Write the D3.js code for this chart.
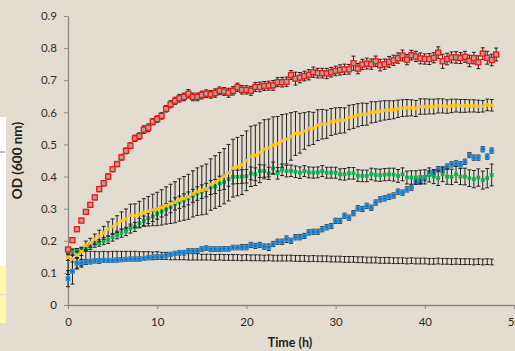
<!DOCTYPE html>
<html>
<head>
<meta charset="utf-8">
<script src="https://cdn.jsdelivr.net/npm/d3@7"></script>
<style>
  html, body { margin: 0; padding: 0; background: #e3ddd1; }
  svg { display: block; }
</style>
</head>
<body>
<div id="chart"></div>
<script>
// time points (h), half-hour readings
const times = [0,0.5,1,1.5,2,2.5,3,3.5,4,4.5,5,5.5,6,6.5,7,7.5,8,8.5,9,9.5,
  10,10.5,11,11.5,12,12.5,13,13.5,14,14.5,15,15.5,16,16.5,17,17.5,18,18.5,19,19.5,
  20,20.5,21,21.5,22,22.5,23,23.5,24,24.5,25,25.5,26,26.5,27,27.5,28,28.5,29,29.5,
  30,30.5,31,31.5,32,32.5,33,33.5,34,34.5,35,35.5,36,36.5,37,37.5,38,38.5,39,39.5,
  40,40.5,41,41.5,42,42.5,43,43.5,44,44.5,45,45.5,46,46.5,47,47.5,48];

const xTicks = [0, 10, 20, 30, 40, 50];
const yTicks = [0, 0.1, 0.2, 0.3, 0.4, 0.5, 0.6, 0.7, 0.8, 0.9];

const redOD = [0.173,0.202,0.236,0.263,0.290,0.312,0.335,0.361,0.379,0.400,
  0.423,0.439,0.460,0.480,0.496,0.519,0.526,0.546,0.552,0.571,
  0.579,0.589,0.611,0.625,0.636,0.644,0.648,0.658,0.648,0.648,
  0.654,0.658,0.656,0.660,0.667,0.665,0.661,0.667,0.678,0.670,
  0.670,0.667,0.679,0.679,0.682,0.683,0.684,0.694,0.694,0.695,
  0.716,0.705,0.708,0.713,0.717,0.725,0.722,0.722,0.721,0.725,
  0.729,0.732,0.734,0.734,0.753,0.736,0.749,0.752,0.750,0.759,
  0.747,0.750,0.757,0.762,0.769,0.777,0.764,0.778,0.774,0.768,
  0.766,0.766,0.770,0.786,0.759,0.766,0.771,0.771,0.769,0.773,
  0.760,0.769,0.756,0.783,0.770,0.763,0.780];
const redErr = [0.006,0.006,0.006,0.007,0.007,0.007,0.007,0.008,0.008,0.008,
  0.008,0.008,0.009,0.009,0.009,0.010,0.010,0.012,0.012,0.010,
  0.010,0.010,0.010,0.011,0.011,0.012,0.012,0.013,0.012,0.012,
  0.012,0.012,0.012,0.013,0.012,0.012,0.014,0.013,0.013,0.013,
  0.013,0.014,0.014,0.015,0.014,0.014,0.015,0.014,0.015,0.015,
  0.014,0.020,0.016,0.015,0.016,0.016,0.015,0.015,0.016,0.015,
  0.015,0.016,0.016,0.015,0.022,0.016,0.016,0.017,0.016,0.016,
  0.018,0.016,0.017,0.016,0.016,0.017,0.016,0.015,0.016,0.017,
  0.016,0.017,0.016,0.018,0.022,0.018,0.017,0.018,0.017,0.017,
  0.018,0.018,0.020,0.018,0.020,0.018,0.020];

const yellowOD = [0.149,0.144,0.156,0.166,0.186,0.194,0.205,0.215,0.225,0.237,
  0.244,0.252,0.262,0.268,0.280,0.278,0.283,0.288,0.292,0.296,
  0.299,0.304,0.310,0.315,0.320,0.327,0.332,0.337,0.346,0.353,
  0.357,0.361,0.375,0.383,0.391,0.401,0.412,0.426,0.431,0.436,
  0.449,0.463,0.466,0.474,0.485,0.489,0.498,0.502,0.511,0.517,
  0.525,0.534,0.535,0.542,0.549,0.550,0.560,0.563,0.563,0.570,
  0.573,0.575,0.575,0.584,0.587,0.591,0.594,0.594,0.600,0.601,
  0.604,0.606,0.607,0.608,0.611,0.613,0.614,0.614,0.612,0.618,
  0.618,0.618,0.618,0.620,0.620,0.618,0.620,0.621,0.620,0.620,
  0.620,0.620,0.619,0.619,0.623,0.622];
const yellowErr = [0.010,0.010,0.011,0.012,0.013,0.014,0.016,0.018,0.020,0.022,
  0.024,0.026,0.028,0.031,0.034,0.037,0.040,0.043,0.046,0.049,
  0.052,0.055,0.058,0.061,0.064,0.066,0.068,0.070,0.072,0.074,
  0.076,0.078,0.080,0.082,0.084,0.086,0.088,0.090,0.091,0.092,
  0.093,0.094,0.094,0.093,0.092,0.090,0.088,0.085,0.082,0.078,
  0.074,0.068,0.062,0.057,0.053,0.050,0.048,0.046,0.044,0.042,
  0.041,0.040,0.039,0.038,0.037,0.036,0.035,0.034,0.033,0.032,
  0.031,0.030,0.029,0.028,0.027,0.026,0.026,0.025,0.025,0.024,
  0.024,0.023,0.023,0.022,0.022,0.021,0.021,0.020,0.020,0.020,
  0.019,0.019,0.019,0.018,0.018,0.018];

const greenOD = [0.164,0.166,0.168,0.172,0.178,0.182,0.190,0.193,0.199,0.203,
  0.211,0.218,0.224,0.229,0.238,0.243,0.255,0.262,0.270,0.276,
  0.284,0.291,0.298,0.305,0.315,0.320,0.326,0.332,0.340,0.347,
  0.353,0.358,0.366,0.369,0.379,0.382,0.392,0.399,0.399,0.400,
  0.401,0.410,0.407,0.417,0.417,0.410,0.426,0.410,0.421,0.417,
  0.418,0.415,0.412,0.417,0.413,0.412,0.413,0.417,0.412,0.412,
  0.412,0.407,0.407,0.410,0.410,0.403,0.402,0.402,0.408,0.405,
  0.404,0.406,0.407,0.406,0.402,0.407,0.397,0.397,0.397,0.399,
  0.399,0.405,0.400,0.395,0.407,0.400,0.399,0.407,0.400,0.400,
  0.395,0.392,0.397,0.389,0.395,0.405];
const greenErr = [0.008,0.008,0.008,0.008,0.009,0.009,0.010,0.010,0.011,0.011,
  0.012,0.012,0.013,0.013,0.014,0.014,0.015,0.015,0.016,0.016,
  0.017,0.017,0.018,0.018,0.019,0.019,0.020,0.020,0.020,0.021,
  0.021,0.021,0.022,0.022,0.022,0.022,0.022,0.022,0.021,0.021,
  0.021,0.020,0.020,0.020,0.019,0.019,0.019,0.018,0.018,0.018,
  0.018,0.018,0.018,0.017,0.017,0.017,0.017,0.017,0.017,0.017,
  0.017,0.017,0.018,0.018,0.018,0.018,0.018,0.018,0.018,0.019,
  0.019,0.019,0.019,0.020,0.020,0.020,0.020,0.021,0.021,0.021,
  0.022,0.022,0.022,0.023,0.023,0.024,0.024,0.025,0.025,0.026,
  0.026,0.027,0.027,0.028,0.030,0.034];

const blueOD = [0.082,0.105,0.130,0.132,0.134,0.135,0.138,0.138,0.139,0.139,
  0.139,0.140,0.141,0.142,0.143,0.143,0.143,0.145,0.147,0.149,
  0.150,0.150,0.155,0.158,0.161,0.163,0.163,0.168,0.168,0.169,
  0.174,0.177,0.174,0.174,0.174,0.175,0.175,0.179,0.179,0.180,
  0.180,0.187,0.184,0.187,0.182,0.180,0.190,0.197,0.197,0.205,
  0.200,0.211,0.211,0.215,0.226,0.228,0.228,0.236,0.242,0.246,
  0.262,0.262,0.278,0.272,0.286,0.301,0.299,0.309,0.303,0.319,
  0.329,0.332,0.337,0.341,0.353,0.350,0.360,0.365,0.384,0.384,
  0.395,0.410,0.410,0.423,0.421,0.431,0.438,0.441,0.438,0.446,
  0.467,0.459,0.459,0.485,0.462,0.481];
const blueErr = [0.025,0.040,0.018,0.010,0.008,0.007,0.006,0.006,0.006,0.006,
  0.006,0.006,0.006,0.006,0.006,0.006,0.006,0.006,0.006,0.006,
  0.006,0.006,0.006,0.006,0.006,0.007,0.007,0.007,0.007,0.007,
  0.007,0.007,0.007,0.007,0.007,0.007,0.007,0.007,0.007,0.008,
  0.008,0.008,0.008,0.008,0.008,0.010,0.008,0.008,0.008,0.010,
  0.008,0.008,0.008,0.008,0.008,0.008,0.008,0.008,0.008,0.008,
  0.008,0.008,0.008,0.008,0.008,0.008,0.008,0.008,0.008,0.008,
  0.008,0.008,0.008,0.008,0.008,0.008,0.008,0.008,0.008,0.008,
  0.008,0.008,0.008,0.008,0.008,0.008,0.008,0.008,0.008,0.008,
  0.008,0.008,0.008,0.008,0.008,0.008];

const blackOD = [0.135,0.140,0.143,0.144,0.147,0.148,0.149,0.148,0.150,0.150,
  0.151,0.152,0.152,0.153,0.153,0.154,0.153,0.154,0.154,0.153,
  0.154,0.153,0.153,0.152,0.152,0.151,0.151,0.150,0.150,0.150,
  0.149,0.149,0.149,0.148,0.149,0.148,0.148,0.148,0.148,0.147,
  0.148,0.147,0.147,0.147,0.146,0.147,0.146,0.146,0.146,0.146,
  0.146,0.145,0.145,0.145,0.144,0.145,0.144,0.144,0.144,0.143,
  0.143,0.143,0.142,0.142,0.142,0.141,0.141,0.140,0.140,0.140,
  0.139,0.139,0.139,0.138,0.138,0.138,0.137,0.138,0.137,0.137,
  0.137,0.136,0.136,0.137,0.136,0.136,0.135,0.136,0.135,0.135,
  0.135,0.134,0.135,0.134,0.135,0.134];
const blackErr = [0.040,0.034,0.028,0.026,0.020,0.019,0.018,0.018,0.017,0.016,
  0.016,0.015,0.015,0.014,0.014,0.013,0.013,0.012,0.012,0.012,
  0.012,0.011,0.011,0.011,0.011,0.010,0.010,0.010,0.010,0.010,
  0.009,0.009,0.009,0.009,0.009,0.009,0.009,0.009,0.009,0.009,
  0.009,0.009,0.009,0.009,0.009,0.009,0.009,0.009,0.009,0.009,
  0.009,0.009,0.009,0.009,0.009,0.009,0.009,0.009,0.009,0.009,
  0.009,0.009,0.009,0.009,0.009,0.009,0.009,0.009,0.009,0.009,
  0.009,0.009,0.009,0.009,0.009,0.009,0.009,0.009,0.009,0.009,
  0.009,0.009,0.009,0.009,0.009,0.009,0.009,0.009,0.009,0.009,
  0.009,0.009,0.009,0.009,0.009,0.009];

let width = 515;
let height = 351;
let margin = {top: 16, right: 1, bottom: 46, left: 68};

const svg = d3.select("#chart")
  .append("svg")
    .attr("width", width)
    .attr("height", height);

svg.append("rect")
  .attr("width", width)
  .attr("height", height)
  .attr("fill", "#e3ddd1");

// leftover bits of a cropped legend box on the left edge
svg.append("rect").attr("x", 0).attr("y", 117).attr("width", 6).attr("height", 149).attr("fill", "#ffffff");
svg.append("rect").attr("x", 0).attr("y", 266).attr("width", 6).attr("height", 28).attr("fill", "#fcf9a8");
svg.append("rect").attr("x", 0).attr("y", 295).attr("width", 6).attr("height", 28).attr("fill", "#fcf9a8");
svg.append("line").attr("x1", 0).attr("x2", 5).attr("y1", 152).attr("y2", 152)
  .attr("stroke", "#8a8a8a").attr("stroke-width", 1.2);

let x = d3.scaleLinear()
  .domain([0, 50])
  .range([margin.left, width - margin.right]);
let y = d3.scaleLinear()
  .domain([0, 0.9])
  .range([height - margin.bottom, margin.top]);

const fontFam = "Lato, 'Open Sans', sans-serif";

const yAxis = svg.append("g")
  .attr("transform", "translate(" + margin.left + ",0)")
  .call(d3.axisLeft(y).tickValues(yTicks).tickSize(4).tickSizeOuter(0).tickPadding(7)
    .tickFormat(d => d === 0 ? "0" : d3.format(".1f")(d)));

const xAxis = svg.append("g")
  .attr("transform", "translate(0," + (height - margin.bottom) + ")")
  .call(d3.axisBottom(x).tickValues(xTicks).tickSize(4).tickSizeOuter(0).tickPadding(9));

[xAxis, yAxis].forEach(function (g) {
  g.select(".domain").attr("stroke", "#8a8a8a").attr("stroke-width", 1.3);
  g.selectAll(".tick line").attr("stroke", "#8a8a8a");
  g.selectAll(".tick text")
    .attr("fill", "#2b2b2b")
    .style("font-family", fontFam)
    .style("font-size", "11.5px");
});

svg.append("text")
  .attr("x", (x(0) + x(50)) / 2 - 1)
  .attr("y", 347)
  .attr("text-anchor", "middle")
  .style("font-family", fontFam)
  .style("font-weight", "bold")
  .style("font-size", "12.5px")
  .attr("fill", "#1e1e1e")
  .text("Time (h)");

svg.append("text")
  .attr("transform", "translate(22," + ((y(0) + y(0.9)) / 2) + ") rotate(-90)")
  .attr("text-anchor", "middle")
  .style("font-family", fontFam)
  .style("font-weight", "bold")
  .style("font-size", "13.5px")
  .attr("fill", "#1e1e1e")
  .text("OD (600 nm)");

const series = [
  {vals: blackOD, err: blackErr, fill: "none", stroke: "none", size: 0},
  {vals: blueOD, err: blueErr, fill: "#0a72c2", stroke: "#3a8fd0", size: 3.6},
  {vals: greenOD, err: greenErr, fill: "#0db150", stroke: "#0db150", size: 3.8},
  {vals: yellowOD, err: yellowErr, fill: "#ffc000", stroke: "#ffc000", size: 3.6},
  {vals: redOD, err: redErr, fill: "#aaa39a", stroke: "#ff1010", size: 5}
];

const plot = svg.append("g");

series.forEach(function (s) {
  const pts = s.vals.map((v, i) => ({t: times[i], v: v, e: s.err[i]}));
  const g = plot.append("g");

  const bars = g.selectAll("g.bar")
    .data(pts)
    .enter()
    .append("g")
      .attr("stroke", "#222")
      .attr("stroke-width", 1);
  bars.append("line")
    .attr("x1", d => x(d.t)).attr("x2", d => x(d.t))
    .attr("y1", d => y(d.v - d.e)).attr("y2", d => y(d.v + d.e));
  bars.append("line")
    .attr("x1", d => x(d.t) - 2).attr("x2", d => x(d.t) + 2)
    .attr("y1", d => y(d.v + d.e)).attr("y2", d => y(d.v + d.e));
  bars.append("line")
    .attr("x1", d => x(d.t) - 2).attr("x2", d => x(d.t) + 2)
    .attr("y1", d => y(d.v - d.e)).attr("y2", d => y(d.v - d.e));

  if (s.size > 0) {
    g.selectAll("rect")
      .data(pts)
      .enter()
      .append("rect")
        .attr("x", d => x(d.t) - s.size / 2)
        .attr("y", d => y(d.v) - s.size / 2)
        .attr("width", s.size)
        .attr("height", s.size)
        .attr("fill", s.fill)
        .attr("stroke", s.stroke)
        .attr("stroke-width", s.stroke === s.fill ? 0 : 1.3);
  }
});
</script>
</body>
</html>
